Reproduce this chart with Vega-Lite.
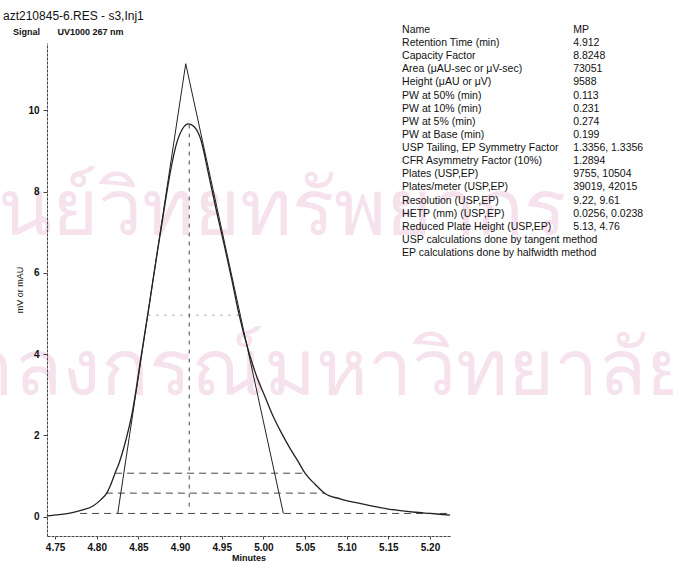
{
  "$schema": "https://vega.github.io/schema/vega-lite/v6.json",
  "width": 403,
  "height": 493,
  "autosize": {"type": "none"},
  "padding": {"left": 47, "top": 43, "right": 223, "bottom": 27},
  "background": "white",
  "config": {"font": "Liberation Sans", "view": {"stroke": null}},
  "title": {
    "text": "azt210845-6.RES - s3,Inj1",
    "subtitle": "\u200b\u00a0\u00a0\u00a0\u00a0Signal\u00a0\u00a0\u00a0\u00a0\u00a0\u00a0\u00a0UV1000 267 nm",
    "anchor": "start",
    "frame": "group",
    "dx": -44,
    "offset": -13,
    "fontSize": 12,
    "fontWeight": "normal",
    "color": "#111",
    "subtitleFontSize": 9,
    "subtitleFontWeight": "bold",
    "subtitleColor": "#111",
    "subtitlePadding": 5
  },
  "datasets": {
    "signal": [
      {"t": 4.740, "v": 0.02}, {"t": 4.755, "v": 0.05}, {"t": 4.768, "v": 0.09},
      {"t": 4.782, "v": 0.16}, {"t": 4.796, "v": 0.27}, {"t": 4.805, "v": 0.42},
      {"t": 4.812, "v": 0.58}, {"t": 4.817, "v": 0.80}, {"t": 4.822, "v": 1.07},
      {"t": 4.827, "v": 1.33}, {"t": 4.832, "v": 1.66}, {"t": 4.837, "v": 2.05},
      {"t": 4.842, "v": 2.50}, {"t": 4.847, "v": 3.10}, {"t": 4.852, "v": 3.78},
      {"t": 4.862, "v": 5.08}, {"t": 4.872, "v": 6.42}, {"t": 4.880, "v": 7.45},
      {"t": 4.888, "v": 8.45}, {"t": 4.896, "v": 9.20}, {"t": 4.903, "v": 9.55},
      {"t": 4.910, "v": 9.67}, {"t": 4.917, "v": 9.60}, {"t": 4.925, "v": 9.28},
      {"t": 4.934, "v": 8.45}, {"t": 4.944, "v": 7.50}, {"t": 4.952, "v": 6.78},
      {"t": 4.962, "v": 5.85}, {"t": 4.970, "v": 5.05}, {"t": 4.984, "v": 3.95},
      {"t": 4.992, "v": 3.45}, {"t": 5.002, "v": 2.95}, {"t": 5.012, "v": 2.46},
      {"t": 5.022, "v": 2.05}, {"t": 5.032, "v": 1.68}, {"t": 5.042, "v": 1.35},
      {"t": 5.050, "v": 1.07}, {"t": 5.062, "v": 0.80}, {"t": 5.074, "v": 0.57},
      {"t": 5.092, "v": 0.44}, {"t": 5.120, "v": 0.31}, {"t": 5.142, "v": 0.22},
      {"t": 5.160, "v": 0.16}, {"t": 5.182, "v": 0.11}, {"t": 5.200, "v": 0.08},
      {"t": 5.224, "v": 0.04}
    ],
    "tangent": [
      {"t": 4.8252, "v": 0.08, "k": 1},
      {"t": 4.9068, "v": 11.15, "k": 2},
      {"t": 5.024, "v": 0.08, "k": 3}
    ],
    "levels": [
      {"name": "10%", "t1": 4.822, "t2": 5.050, "v": 1.07},
      {"name": "5%", "t1": 4.811, "t2": 5.074, "v": 0.58},
      {"name": "base", "t1": 4.780, "t2": 5.224, "v": 0.08}
    ],
    "half": [{"t1": 4.862, "t2": 4.970, "v": 4.96}],
    "rt": [{"t": 4.911, "v1": 0.25, "v2": 9.67}],
    "table": [
      {"row": 1, "label": "Name", "value": "MP"},
      {"row": 2, "label": "Retention Time (min)", "value": "4.912"},
      {"row": 3, "label": "Capacity Factor", "value": "8.8248"},
      {"row": 4, "label": "Area (\u03bcAU-sec or \u03bcV-sec)", "value": "73051"},
      {"row": 5, "label": "Height (\u03bcAU or \u03bcV)", "value": "9588"},
      {"row": 6, "label": "PW at 50% (min)", "value": "0.113"},
      {"row": 7, "label": "PW at 10% (min)", "value": "0.231"},
      {"row": 8, "label": "PW at 5% (min)", "value": "0.274"},
      {"row": 9, "label": "PW at Base (min)", "value": "0.199"},
      {"row": 10, "label": "USP Tailing, EP Symmetry Factor", "value": "1.3356, 1.3356"},
      {"row": 11, "label": "CFR Asymmetry Factor (10%)", "value": "1.2894"},
      {"row": 12, "label": "Plates (USP,EP)", "value": "9755, 10504"},
      {"row": 13, "label": "Plates/meter (USP,EP)", "value": "39019, 42015"},
      {"row": 14, "label": "Resolution (USP,EP)", "value": "9.22, 9.61"},
      {"row": 15, "label": "HETP (mm) (USP,EP)", "value": "0.0256, 0.0238"},
      {"row": 16, "label": "Reduced Plate Height (USP,EP)", "value": "5.13, 4.76"},
      {"row": 17, "label": "USP calculations done by tangent method", "value": ""},
      {"row": 18, "label": "EP calculations done by halfwidth method", "value": ""}
    ],
    "watermark": [
      {"t": 4.6215, "v": 6.94, "text": "ศูนย์วิทยทรัพยากร"},
      {"t": 4.528, "v": 3.0, "text": "จุฬาลงกรณ์มหาวิทยาลัย"}
    ]
  },
  "layer": [
    {
      "layer": [
        {
          "data": {"name": "watermark"},
          "mark": {"type": "text", "fontSize": 79, "color": "#f6e2ed", "align": "left", "baseline": "alphabetic"},
          "encoding": {
            "x": {"field": "t", "type": "quantitative"},
            "y": {"field": "v", "type": "quantitative"},
            "text": {"field": "text"}
          }
        },
        {
          "data": {"name": "levels"},
          "mark": {"type": "rule", "stroke": "#333", "strokeWidth": 0.9, "strokeDash": [7, 5]},
          "encoding": {
            "x": {"field": "t1", "type": "quantitative"},
            "x2": {"field": "t2"},
            "y": {"field": "v", "type": "quantitative"}
          }
        },
        {
          "data": {"name": "half"},
          "mark": {"type": "rule", "stroke": "#777", "strokeWidth": 0.8, "strokeDash": [2, 6]},
          "encoding": {
            "x": {"field": "t1", "type": "quantitative"},
            "x2": {"field": "t2"},
            "y": {"field": "v", "type": "quantitative"}
          }
        },
        {
          "data": {"name": "rt"},
          "mark": {"type": "rule", "stroke": "#333", "strokeWidth": 0.9, "strokeDash": [4, 5]},
          "encoding": {
            "x": {"field": "t", "type": "quantitative"},
            "y": {"field": "v1", "type": "quantitative"},
            "y2": {"field": "v2"}
          }
        },
        {
          "data": {"name": "tangent"},
          "mark": {"type": "line", "stroke": "#222", "strokeWidth": 1},
          "encoding": {
            "x": {"field": "t", "type": "quantitative"},
            "y": {"field": "v", "type": "quantitative"},
            "order": {"field": "k"}
          }
        },
        {
          "data": {"name": "signal"},
          "mark": {"type": "line", "stroke": "#222", "strokeWidth": 1.3, "interpolate": "monotone"},
          "encoding": {
            "x": {
              "field": "t", "type": "quantitative",
              "scale": {"domain": [4.7403, 5.224], "nice": false, "zero": false},
              "axis": {
                "values": [4.75, 4.8, 4.85, 4.9, 4.95, 5.0, 5.05, 5.1, 5.15, 5.2],
                "format": ".2f",
                "title": "Minutes",
                "titleFontSize": 9,
                "titleFontWeight": "bold",
                "titleColor": "#111",
                "titlePadding": 1,
                "labelFontSize": 10,
                "labelFontWeight": "bold",
                "labelColor": "#111",
                "labelPadding": 3,
                "tickSize": 3,
                "tickColor": "#444",
                "domainColor": "#444",
                "domainDash": [3, 1],
                "grid": false,
                "zindex": 1
              }
            },
            "y": {
              "field": "v", "type": "quantitative",
              "scale": {"domain": [-0.475, 11.66], "nice": false, "zero": false},
              "axis": {
                "values": [0, 2, 4, 6, 8, 10],
                "title": "mV or mAU",
                "titleFontSize": 9,
                "titleFontWeight": "normal",
                "titleColor": "#111",
                "titlePadding": 3,
                "labelFontSize": 10,
                "labelFontWeight": "bold",
                "labelColor": "#111",
                "labelPadding": 4,
                "tickSize": 4,
                "tickColor": "#444",
                "domainColor": "#444",
                "domainDash": [3, 1],
                "grid": false,
                "zindex": 1
              }
            }
          }
        }
      ]
    },
    {
      "data": {"name": "table"},
      "layer": [
        {
          "mark": {"type": "text", "fontSize": 10.5, "color": "#111", "align": "left", "baseline": "middle"},
          "encoding": {
            "x": {"datum": 5.1665, "type": "quantitative"},
            "y": {"field": "row", "type": "quantitative", "scale": {"domain": [1, 18], "range": [-13, 210]}, "axis": null},
            "text": {"field": "label"}
          }
        },
        {
          "mark": {"type": "text", "fontSize": 10.5, "color": "#111", "align": "left", "baseline": "middle"},
          "encoding": {
            "x": {"datum": 5.3718, "type": "quantitative"},
            "y": {"field": "row", "type": "quantitative", "scale": {"domain": [1, 18], "range": [-13, 210]}, "axis": null},
            "text": {"field": "value"}
          }
        }
      ]
    }
  ],
  "resolve": {"scale": {"y": "independent"}}
}
